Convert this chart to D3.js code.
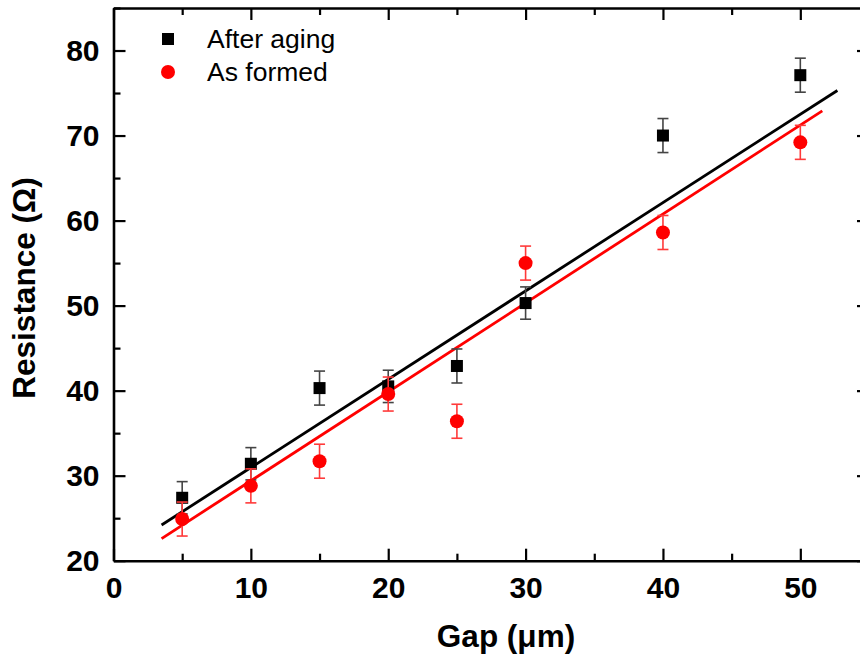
<!DOCTYPE html>
<html>
<head>
<meta charset="utf-8">
<script src="https://cdn.jsdelivr.net/npm/d3@7"></script>
<style>
  body { margin: 0; background: #fff; }
  svg { display: block; font-family: "Liberation Sans", Arial, sans-serif; }
</style>
</head>
<body>
<div id="chart"></div>
<script>
// values
const gaps = [5, 10, 15, 20, 25, 30, 40, 50];
const afterAging = [27.4, 31.4, 40.3, 40.5, 42.9, 50.3, 70.0, 77.1];
const asFormed = [24.9, 28.8, 31.7, 39.6, 36.4, 55.0, 58.6, 69.2];
const agingErr = [1.9, 1.9, 2.0, 1.9, 2.0, 1.9, 2.0, 2.0];
const formedErr = [2.0, 2.0, 2.0, 2.0, 2.0, 2.0, 2.0, 2.0];

// fitted lines, endpoints as drawn
const fitAging = [[3.5, 24.2], [52.7, 75.3]];
const fitFormed = [[3.5, 22.6], [51.6, 72.9]];

const xMajor = [0, 10, 20, 30, 40, 50];
const xMinor = [5, 15, 25, 35, 45, 55];
const yMajor = [20, 30, 40, 50, 60, 70, 80];
const yMinor = [25, 35, 45, 55, 65, 75, 85];

const W = 860, H = 657;
const plotL = 113.5, plotR = 869, plotT = 8, plotB = 560.7;

const svg = d3.select("#chart")
    .append("svg")
    .attr("width", W)
    .attr("height", H);

const x = d3.scaleLinear().domain([0, 55]).range([plotL, plotR]);
const y = d3.scaleLinear().domain([20, 85]).range([plotB, plotT]);

const line = d3.line().x(d => x(d[0])).y(d => y(d[1]));

// fit lines
svg.append("path")
    .datum(fitAging)
    .attr("d", line)
    .attr("fill", "none")
    .attr("stroke", "#000")
    .attr("stroke-width", 2.8);

svg.append("path")
    .datum(fitFormed)
    .attr("d", line)
    .attr("fill", "none")
    .attr("stroke", "#ff0000")
    .attr("stroke-width", 2.8);

function drawSeries(vals, errs, color, errColor, shape) {
    const g = svg.append("g");
    const pts = gaps.map((gx, i) => ({gx: gx, v: vals[i], e: errs[i]}));
    const cap = 5.5;

    const eb = g.selectAll(".err")
        .data(pts)
        .enter()
        .append("g")
        .attr("stroke", errColor)
        .attr("stroke-width", 1.6);
    eb.append("line")
        .attr("x1", d => x(d.gx)).attr("x2", d => x(d.gx))
        .attr("y1", d => y(d.v - d.e)).attr("y2", d => y(d.v + d.e));
    eb.append("line")
        .attr("x1", d => x(d.gx) - cap).attr("x2", d => x(d.gx) + cap)
        .attr("y1", d => y(d.v + d.e)).attr("y2", d => y(d.v + d.e));
    eb.append("line")
        .attr("x1", d => x(d.gx) - cap).attr("x2", d => x(d.gx) + cap)
        .attr("y1", d => y(d.v - d.e)).attr("y2", d => y(d.v - d.e));

    if (shape === "square") {
        g.selectAll("rect")
            .data(pts)
            .enter()
            .append("rect")
            .attr("x", d => x(d.gx) - 6)
            .attr("y", d => y(d.v) - 6)
            .attr("width", 12)
            .attr("height", 12)
            .attr("fill", color);
    } else {
        g.selectAll("circle")
            .data(pts)
            .enter()
            .append("circle")
            .attr("cx", d => x(d.gx))
            .attr("cy", d => y(d.v))
            .attr("r", 7)
            .attr("fill", color);
    }
}

drawSeries(afterAging, agingErr, "#000", "#444", "square");
drawSeries(asFormed, formedErr, "#ff0000", "#ff3a3a", "circle");

// axes: ticks point inward, mirrored on top and right
const tickFont = g => g.selectAll("text")
    .attr("fill", "#000")
    .style("font-size", "30px")
    .style("font-weight", "bold");

function styleAxis(g) {
    g.select(".domain").attr("stroke-width", 2.6);
    g.selectAll(".tick line").attr("stroke-width", 2.2);
}

svg.append("g")
    .attr("transform", `translate(0,${plotB})`)
    .call(d3.axisBottom(x).tickValues(xMajor).tickSize(-12).tickSizeOuter(0).tickPadding(16))
    .call(tickFont)
    .call(styleAxis);
svg.append("g")
    .attr("transform", `translate(0,${plotB})`)
    .call(d3.axisBottom(x).tickValues(xMinor).tickSize(-7).tickFormat(""))
    .call(g => g.select(".domain").remove())
    .call(styleAxis);

svg.append("g")
    .attr("transform", `translate(0,${plotT})`)
    .call(d3.axisTop(x).tickValues(xMajor).tickSize(-12).tickSizeOuter(0).tickFormat(""))
    .call(styleAxis);
svg.append("g")
    .attr("transform", `translate(0,${plotT})`)
    .call(d3.axisTop(x).tickValues(xMinor).tickSize(-7).tickFormat(""))
    .call(g => g.select(".domain").remove())
    .call(styleAxis);

svg.append("g")
    .attr("transform", `translate(${plotL},0)`)
    .call(d3.axisLeft(y).tickValues(yMajor).tickSize(-12).tickSizeOuter(0).tickPadding(14))
    .call(tickFont)
    .call(styleAxis);
svg.append("g")
    .attr("transform", `translate(${plotL},0)`)
    .call(d3.axisLeft(y).tickValues(yMinor).tickSize(-7).tickFormat(""))
    .call(g => g.select(".domain").remove())
    .call(styleAxis);

svg.append("g")
    .attr("transform", `translate(${plotR},0)`)
    .call(d3.axisRight(y).tickValues(yMajor).tickSize(-12).tickSizeOuter(0).tickFormat(""))
    .call(styleAxis);
svg.append("g")
    .attr("transform", `translate(${plotR},0)`)
    .call(d3.axisRight(y).tickValues(yMinor).tickSize(-7).tickFormat(""))
    .call(g => g.select(".domain").remove())
    .call(styleAxis);

// axis titles
svg.append("text")
    .attr("x", 506)
    .attr("y", 647)
    .attr("text-anchor", "middle")
    .style("font-size", "31.5px")
    .style("font-weight", "bold")
    .text("Gap (\u03bcm)");

svg.append("text")
    .attr("transform", "rotate(-90)")
    .attr("x", -288)
    .attr("y", 35)
    .attr("text-anchor", "middle")
    .style("font-size", "31.5px")
    .style("font-weight", "bold")
    .text("Resistance (\u03a9)");

// legend
const legend = svg.append("g");
legend.append("rect")
    .attr("x", 162).attr("y", 33)
    .attr("width", 12).attr("height", 12)
    .attr("fill", "#000");
legend.append("circle")
    .attr("cx", 168).attr("cy", 72)
    .attr("r", 7)
    .attr("fill", "#ff0000");
legend.append("text")
    .attr("x", 207).attr("y", 48)
    .style("font-size", "26.5px")
    .text("After aging");
legend.append("text")
    .attr("x", 207).attr("y", 81)
    .style("font-size", "26.5px")
    .text("As formed");
</script>
</body>
</html>
